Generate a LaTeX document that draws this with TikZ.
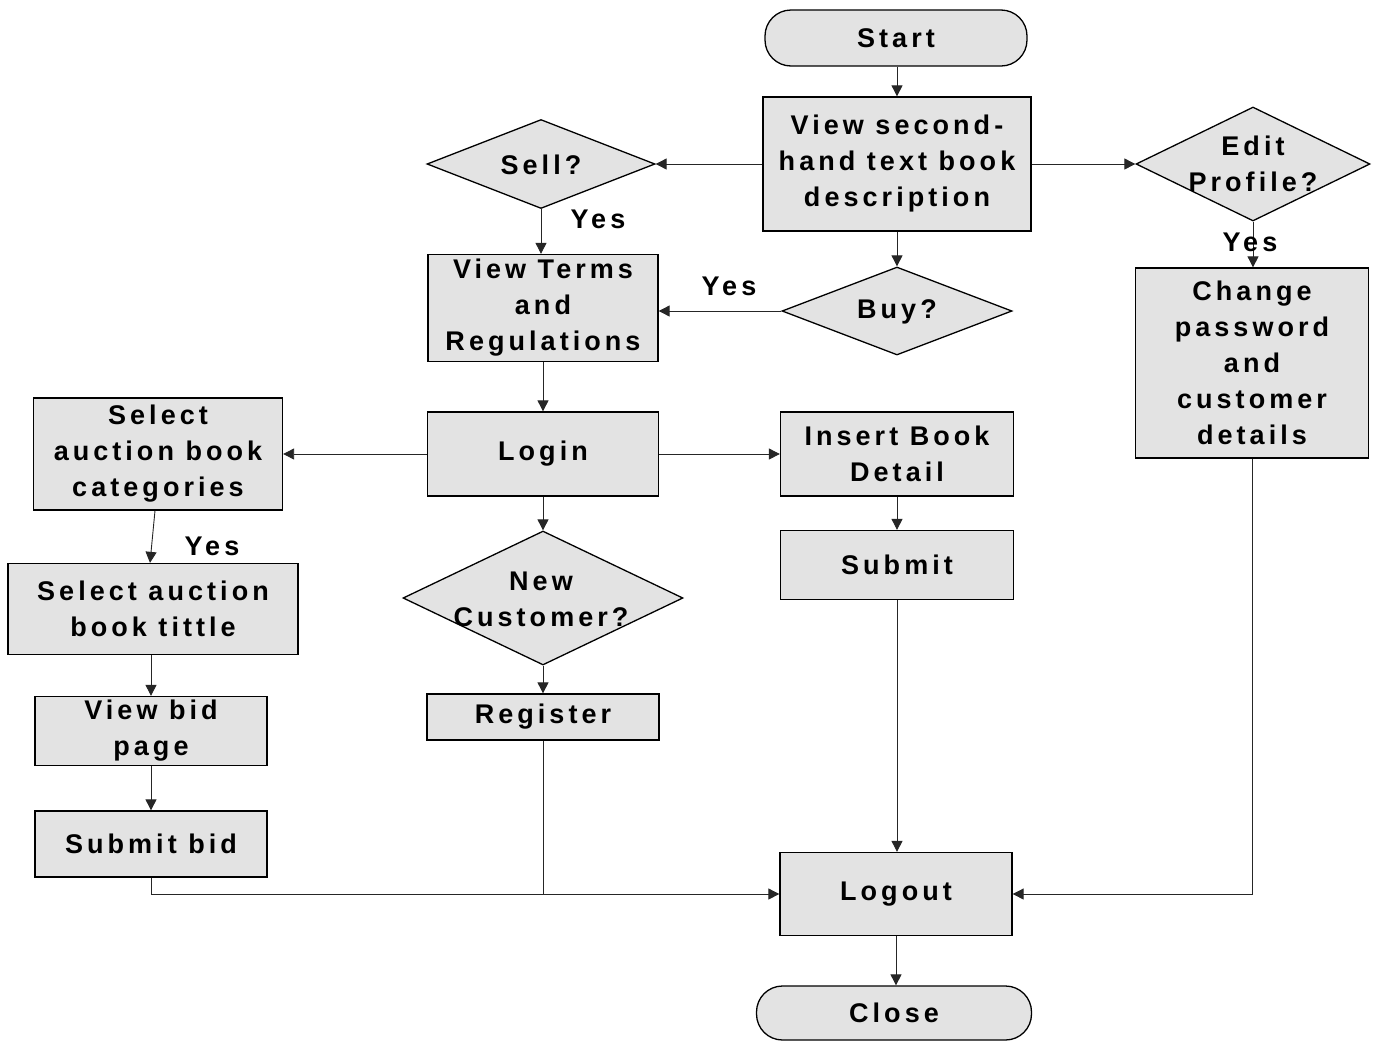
\documentclass[tikz,border=0pt]{standalone}
\usepackage{fontspec}
\setmainfont[LetterSpace=15]{Liberation Sans}
\usetikzlibrary{shapes.geometric,arrows.meta}
\definecolor{boxfill}{gray}{0.89}
\begin{document}
\begin{tikzpicture}[x=1pt,y=-1pt,
  every node/.style={font=\fontsize{27}{36}\selectfont\bfseries, align=center, inner sep=0pt},
  box/.style={draw, fill=boxfill, line width=1.3pt},
  term/.style={box, rounded corners=26pt},
  dia/.style={diamond, draw, fill=boxfill, line width=1.3pt},
  link/.style={line width=0.9pt, draw=black!85},
  flow/.style={link, -{Triangle[length=11pt,width=11pt]}}]
\useasboundingbox (0,0) rectangle (1379,1042);

% terminals
\node[term, minimum width=262, minimum height=56] (start) at (896,38) {Start};
\node[term, minimum width=275, minimum height=54] (close) at (894,1013) {Close};

% main column
\node[box, minimum width=268, minimum height=134] (view) at (897,164) {View second-\\hand text book\\description};
\node[dia, minimum width=230, minimum height=88] (buy) at (897,311) {};
\node (buyT) at (897,312) {Buy?};
\node[box, minimum width=233, minimum height=84] (insert) at (897,454) {Insert Book\\Detail};
\node[box, minimum width=233, minimum height=69] (submit) at (897,565) {Submit};
\node[box, minimum width=232, minimum height=83] (logout) at (896,894) {Logout};

% selling / login column
\node[dia, minimum width=228, minimum height=89] (sell) at (541,164) {};
\node (sellT) at (541,165) {Sell?};
\node[box, minimum width=230, minimum height=107] (terms) at (543,308) {View Terms\\and\\Regulations};
\node[box, minimum width=231, minimum height=84] (login) at (543,454) {Login};
\node[dia, minimum width=280, minimum height=134] (newc) at (543,598) {};
\node (newcT) at (541,599) {New\\Customer?};
\node[box, minimum width=232, minimum height=46] (register) at (543,717) {Register};

% auction column
\node[box, minimum width=249, minimum height=112] (cat) at (158,454) {Select\\auction book\\categories};
\node[box, minimum width=290, minimum height=91] (title) at (153,609) {Select auction\\book tittle};
\node[box, minimum width=232, minimum height=69] (bidpage) at (151,731) {View bid\\page};
\node[box, minimum width=232, minimum height=66] (subbid) at (151,844) {Submit bid};

% profile column
\node[dia, minimum width=234, minimum height=114] (edit) at (1253,164) {};
\node (editT) at (1253,164) {Edit\\Profile?};
\node[box, minimum width=233, minimum height=190] (change) at (1252,363) {Change\\password\\and\\customer\\details};

% connectors
\draw[flow] (start.south -| view.north) -- (view.north);
\draw[flow] (view.west) -- (sell.east);
\draw[flow] (view.east) -- (edit.west);
\draw[flow] (view) -- (buy);
\draw[flow] (sell.south) -- (sell.south |- terms.north);
\draw[flow] (buy.west) -- (buy.west -| terms.east);
\draw[flow] (edit.south) -- (edit.south |- change.north);
\draw[flow] (terms) -- (login);
\draw[flow] (login) -- (cat);
\draw[flow] (login) -- (insert);
\draw[flow] (login) -- (newc);
\draw[flow] ([xshift=-3pt]cat.south) -- ([xshift=-3pt]title.north);
\draw[flow] (bidpage.north |- title.south) -- (bidpage.north);
\draw[flow] (bidpage) -- (subbid);
\draw[flow] (newc) -- (register);
\draw[flow] (insert) -- (submit);
\draw[flow] (submit.south) -- (submit.south |- logout.north);
\draw[flow] (subbid.south) |- (logout.west);
\draw[link] (register.south) -- (register.south |- logout.west);
\draw[flow] (change.south) |- (logout.east);
\draw[flow] (logout.south) -- (logout.south |- close.north);

% branch labels
\node (yes1) at (598,219) {Yes};
\node (yes2) at (729,286) {Yes};
\node (yes3) at (1250,242) {Yes};
\node (yes4) at (212,546) {Yes};
\end{tikzpicture}
\end{document}
